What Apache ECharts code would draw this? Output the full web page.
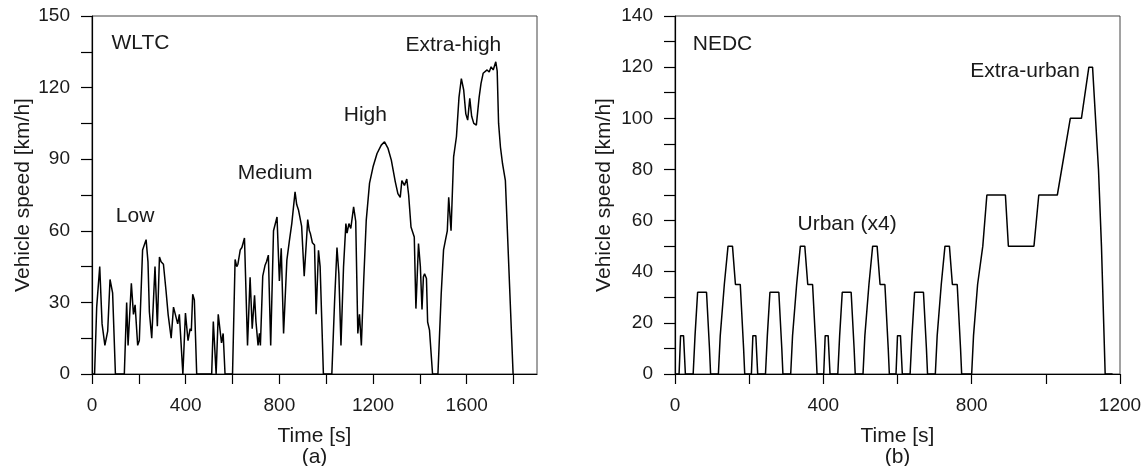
<!DOCTYPE html>
<html>
<head>
<meta charset="utf-8">
<script src="https://cdn.jsdelivr.net/npm/echarts@6/dist/echarts.min.js"></script>
<style>
html,body{margin:0;padding:0;background:#fff;}
#chart{width:1147px;height:466px;}
</style>
</head>
<body>
<div id="chart"></div>
<script>
// ---- WLTC (a) ----
const wltcTime = [0,11,20,33,43,55,67,77,88,100,138,148,154,168,177,184,195,202,216,231,239,245,255,269,279,288,295,305,316,325,338,348,356,366,373,388,399,410,419,424,430,437,447,511,518,530,539,553,560,568,600,611,618,623,633,640,651,664,675,684,694,700,709,715,719,729,739,745,753,763,775,790,800,808,818,832,843,853,867,874,882,895,906,915,921,928,932,941,950,957,967,974,988,1024,1036,1046,1054,1063,1074,1084,1089,1097,1105,1117,1126,1135,1142,1150,1160,1171,1185,1200,1217,1235,1249,1264,1278,1295,1306,1316,1323,1334,1344,1352,1362,1376,1383,1394,1402,1409,1415,1420,1428,1433,1441,1454,1477,1491,1501,1511,1517,1523,1533,1544,1556,1567,1577,1587,1596,1604,1613,1621,1630,1641,1653,1661,1670,1678,1687,1696,1704,1713,1724,1730,1736,1744,1753,1765,1798,1800];
const wltcSpeed = [0,0,28,45,21,12,18,39.6,34,0,0,30,12,38,25,29,12,14,52,56.3,47,26,15,45,20,49,47,46,35,25,15,28,28,21,25,0,25.5,14,19,18,33.4,31,0,0,22,0,25,13,17,0,0,48,45,46,52,53,57,12,40.5,19,33,22,12,17,12,41,45.6,47,49.8,12,60,65.8,39,52.7,17,47.7,56,63,76.3,71,68.6,62,41,55,64.7,60,59,55,54,25,51.8,45,0,0,31,53,42,12,45,63,59,63,61,70,64,17,25,12,39,64.5,80,86.8,92.4,95.9,97.3,94.5,89.6,80.5,75.6,74,81,79,81.7,75,61.6,57.4,27.4,54.7,45,27,40.7,42,40,21.8,18.4,0,0,33.6,52,57,60,74,60,91,99.4,116,123.8,119,109,106.4,115.5,108,105,104.3,116,121.8,126,125.3,127.4,126.5,128.7,127.4,130.8,127,105,95,88,81,0,0];

// ---- NEDC (b) ----
const nedcTime = [0,11,15,23,28,49,54,56,61,85,93,96,117,122,124,133,135,143,155,163,176,185,188,
  195,206,210,218,223,244,249,251,256,280,288,291,312,317,319,328,330,338,350,358,371,380,383,
  390,401,405,413,418,439,444,446,451,475,483,486,507,512,514,523,525,533,545,553,566,575,578,
  585,596,600,608,613,634,639,641,646,670,678,681,702,707,709,718,720,728,740,748,761,770,773,
  780,800,805,807,816,818,830,832,841,891,899,968,981,1031,1066,1096,1116,1126,1142,1150,1160,1180];
const nedcSpeed = [0,0,15,15,0,0,15,15,32,32,10,0,0,15,15,35,35,50,50,35,35,10,0,
  0,0,15,15,0,0,15,15,32,32,10,0,0,15,15,35,35,50,50,35,35,10,0,
  0,0,15,15,0,0,15,15,32,32,10,0,0,15,15,35,35,50,50,35,35,10,0,
  0,0,15,15,0,0,15,15,32,32,10,0,0,15,15,35,35,50,50,35,35,10,0,
  0,0,15,15,35,35,50,50,70,70,50,50,70,70,100,100,120,120,80,50,0,0];

// ---- axes / labels ----
const wltcXTicks = [0,200,400,600,800,1000,1200,1400,1600,1800];
const wltcXLabels = [0,400,800,1200,1600];
const nedcXTicks = [0,200,400,600,800,1000,1200];
const nedcXLabels = [0,400,800,1200];
const xName = ['Time [s]\n(a)', 'Time [s]\n(b)'];
const yName = 'Vehicle speed [km/h]';
const wltcNotes = [['WLTC',207,138.5],['Low',184,66.3],['Medium',782,84.2],['High',1167,108.5],['Extra-high',1543,137.8]];
const nedcNotes = [['NEDC',128,129],['Urban (x4)',464,58.6],['Extra-urban',944,118.5]];

const FONT = 'Liberation Sans, Arial, sans-serif';
const TXT = '#1a1a1a';

function zip(a,b){return a.map((v,i)=>[v,b[i]]);}
function notes(arr){
  return arr.map(n=>({coord:[n[1],n[2]],name:n[0],symbol:'rect',symbolSize:[1,1],
    itemStyle:{color:'rgba(0,0,0,0)'},
    label:{show:true,position:'inside',formatter:n[0],color:TXT,fontSize:21,fontFamily:FONT}}));
}
function xAxis(idx,max,ticks,labels){
  return {type:'value',gridIndex:idx,min:0,max:max,
    name:xName[idx],nameLocation:'middle',nameGap:52,
    nameTextStyle:{color:TXT,fontSize:21,fontFamily:FONT,lineHeight:21},
    axisLine:{show:true,onZero:false,lineStyle:{color:'#000',width:1.2}},
    axisTick:{show:true,inside:false,length:10,customValues:ticks,lineStyle:{color:'#000',width:1.2}},
    axisLabel:{customValues:labels,margin:22,color:TXT,fontSize:19,fontFamily:FONT,
      formatter:v=>String(v)},
    splitLine:{show:false}};
}
function yAxis(idx,max,interval,labelStep,gap){
  return {type:'value',gridIndex:idx,min:0,max:max,interval:interval,
    name:yName,nameLocation:'middle',nameGap:gap,
    nameTextStyle:{color:TXT,fontSize:21,fontFamily:FONT},
    axisLine:{show:true,onZero:false,lineStyle:{color:'#000',width:1.2}},
    axisTick:{show:true,inside:false,length:11,lineStyle:{color:'#000',width:1.2}},
    axisLabel:{margin:22,color:TXT,fontSize:19,fontFamily:FONT,
      formatter:v=>(v%labelStep===0?String(v):'')},
    splitLine:{show:false}};
}

const chart = echarts.init(document.getElementById('chart'),null,{renderer:'canvas'});
chart.setOption({
  animation:false,
  backgroundColor:'#fff',
  grid:[
    {left:92,right:610,top:16,bottom:92,containLabel:false,outerBoundsMode:'none',show:true,borderColor:'#444',borderWidth:1,backgroundColor:'transparent'},
    {left:675,right:27,top:16,bottom:92,containLabel:false,outerBoundsMode:'none',show:true,borderColor:'#444',borderWidth:1,backgroundColor:'transparent'}
  ],
  xAxis:[xAxis(0,1900,wltcXTicks,wltcXLabels),xAxis(1,1200,nedcXTicks,nedcXLabels)],
  yAxis:[yAxis(0,150,15,30,58),yAxis(1,140,10,20,60)],
  series:[
    {type:'line',name:'WLTC',xAxisIndex:0,yAxisIndex:0,data:zip(wltcTime,wltcSpeed),
     showSymbol:false,symbol:'none',lineStyle:{color:'#000',width:1.5},
     markPoint:{silent:true,data:notes(wltcNotes)}},
    {type:'line',name:'NEDC',xAxisIndex:1,yAxisIndex:1,data:zip(nedcTime,nedcSpeed),
     showSymbol:false,symbol:'none',lineStyle:{color:'#000',width:1.5},
     markPoint:{silent:true,data:notes(nedcNotes)}}
  ]
});
</script>
</body>
</html>
